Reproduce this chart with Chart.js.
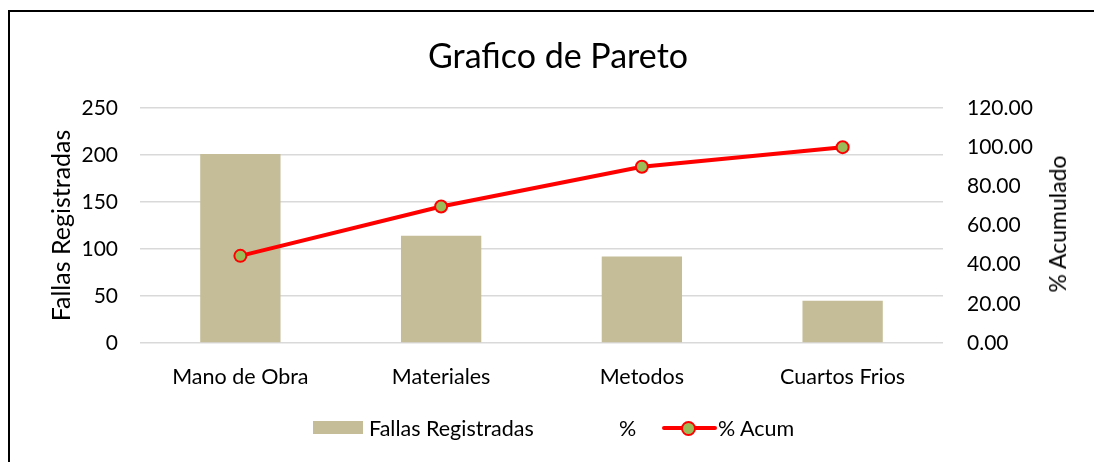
<!DOCTYPE html>
<html><head><meta charset="utf-8">
<script src="https://cdn.jsdelivr.net/npm/chart.js@4"></script>
<style>
html,body{margin:0;padding:0;background:#fff;overflow:hidden;}
#wrap{position:relative;width:1094px;height:462px;overflow:hidden;font-family:Lato,'Liberation Sans',sans-serif;color:#000;}
#frame{position:absolute;left:8px;top:10px;width:1086px;height:452px;border-top:2px solid #000;border-left:2px solid #000;box-sizing:border-box;}
#c{position:absolute;left:0;top:0;}
#title{position:absolute;left:0;width:1116px;top:35px;line-height:40px;text-align:center;font-size:34px;}
#rtitle{position:absolute;left:1057px;top:224px;width:0;height:0;}
#rtitle span{position:absolute;left:0;top:0;transform:translate(-50%,-50%) rotate(-90deg);white-space:nowrap;font-size:23px;line-height:26px;}
.lg{position:absolute;font-size:21.5px;line-height:26px;top:415px;white-space:nowrap;}
</style></head>
<body><div id="wrap">
<div id="frame"></div>
<canvas id="c" width="1094" height="462"></canvas>
<div id="title"></div>
<div id="rtitle"><span></span></div>
<div id="legend"></div>
</div>
<script>
const chartTitle = 'Grafico de Pareto';
const categories = ['Mano de Obra', 'Materiales', 'Metodos', 'Cuartos Frios'];
const fallas = [201, 114, 92, 45];
const pctAcum = [44.5, 69.7, 90.0, 100.0];
const leftAxisTitle = 'Fallas Registradas';
const rightAxisTitle = '% Acumulado';
const seriesNames = ['Fallas Registradas', '%', '% Acum'];

document.getElementById('title').textContent = chartTitle;
document.querySelector('#rtitle span').textContent = rightAxisTitle;

// legend
const lg = document.getElementById('legend');
function el(html){const d=document.createElement('div');d.innerHTML=html;return d.firstChild;}
lg.appendChild(el('<div style="position:absolute;left:313px;top:421px;width:50px;height:13px;background:#C4BD97"></div>'));
const t1 = el('<div class="lg" style="left:369px"></div>'); t1.textContent = seriesNames[0]; lg.appendChild(t1);
const t2 = el('<div class="lg" style="left:619px"></div>'); t2.textContent = seriesNames[1]; lg.appendChild(t2);
lg.appendChild(el('<div style="position:absolute;left:662px;top:426px;width:55px;height:4px;background:#FF0000;border-radius:2px"></div>'));
lg.appendChild(el('<div style="position:absolute;left:681px;top:421px;width:11px;height:11px;border-radius:50%;background:#9BBB59;border:2px solid #FF0000"></div>'));
const t3 = el('<div class="lg" style="left:718px"></div>'); t3.textContent = seriesNames[2]; lg.appendChild(t3);

const FONT = 'Lato';
new Chart(document.getElementById('c'), {
  data: {
    labels: categories,
    datasets: [
      {
        type: 'line', label: seriesNames[2], data: pctAcum, yAxisID: 'y1', order: 1,
        borderColor: '#FF0000', borderWidth: 4, pointRadius: 6, pointHoverRadius: 6,
        pointBackgroundColor: '#9BBB59', pointBorderColor: '#FF0000', pointBorderWidth: 2,
        tension: 0
      },
      {
        type: 'bar', label: seriesNames[0], data: fallas, yAxisID: 'y', order: 2,
        backgroundColor: '#C4BD97', barPercentage: 0.4, categoryPercentage: 1.0
      }
    ]
  },
  options: {
    responsive: false, animation: false,
    layout: { padding: { top: 108, left: 0, right: 0, bottom: 0 } },
    plugins: { legend: { display: false }, title: { display: false }, tooltip: { enabled: false } },
    scales: {
      x: {
        grid: { display: false }, border: { display: false },
        ticks: { color: '#000', font: { family: FONT, size: 21.5 }, padding: 13 },
        afterFit: s => { s.height = 119; }
      },
      y: {
        position: 'left', min: 0, max: 250,
        ticks: { stepSize: 50, color: '#000', font: { family: FONT, size: 21 }, padding: 22 },
        grid: { color: '#D9D9D9', lineWidth: 1.5, drawTicks: false },
        border: { display: false },
        title: { display: true, text: leftAxisTitle, color: '#000', font: { family: FONT, size: 25 }, padding: { top: 47, bottom: 0 } },
        afterFit: s => { s.width = 140; }
      },
      y1: {
        position: 'right', min: 0, max: 120,
        ticks: { stepSize: 20, color: '#000', font: { family: FONT, size: 21 }, padding: 24, callback: v => v.toFixed(2) },
        grid: { drawOnChartArea: false, drawTicks: false },
        border: { display: false },
        afterFit: s => { s.width = 151; }
      }
    }
  }
});
</script>
</body></html>
